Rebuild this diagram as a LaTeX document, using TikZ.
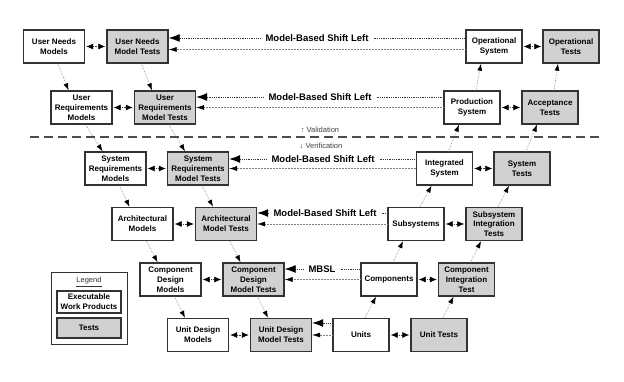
\documentclass[tikz,border=0pt]{standalone}
\usepackage{fontspec}
\setmainfont{Liberation Sans}
\usetikzlibrary{arrows.meta,calc}
\begin{document}
\begin{tikzpicture}[x=1pt,y=-1pt,
  wp/.style={draw=black!80,line width=1.4pt,fill=white,minimum width=61pt,minimum height=33pt,
    inner sep=0.5pt,align=center,font=\fontsize{8}{9.8}\selectfont\bfseries},
  wpr/.style={wp,minimum width=56pt},
  tb/.style={wp,fill=black!18},
  tbr/.style={wpr,fill=black!18},
  mbsl/.style={font=\fontsize{9.5}{11}\selectfont\bfseries,inner xsep=5pt,inner ysep=1pt},
  diag/.style={draw=black!50,densely dotted,line width=0.6pt,-{Latex[length=7pt,width=5pt,color=black]}},
  bidir/.style={draw=black!75,densely dotted,line width=0.7pt,shorten <=1pt,shorten >=1pt,
    {Latex[length=7pt,width=6pt,color=black]}-{Latex[length=7pt,width=6pt,color=black]}},
  bigarr/.style={draw=black!80,densely dotted,line width=0.8pt,-{Latex[length=11pt,width=8pt,color=black]}},
  updot/.style={draw=black!80,densely dotted,line width=0.8pt},
  thinarr/.style={draw=black!50,densely dotted,line width=0.5pt,-{Latex[length=8pt,width=5pt,color=black]}},
  small/.style={font=\fontsize{7.5}{8.5}\selectfont,text=black!75,inner sep=1pt}
]
\useasboundingbox (0,0) rectangle (624,382);

% left side (models and model tests)
\node[wp] (UNM)  at (54,46.5)    {User Needs\\Models};
\node[tb] (UNMT) at (137.5,46.5) {User Needs\\Model Tests};
\node[wp] (URM)  at (81.5,107.5) {User\\Requirements\\Models};
\node[tb] (URMT) at (165,107.5)  {User\\Requirements\\Model Tests};
\node[wp] (SRM)  at (115.5,168.5){System\\Requirements\\Models};
\node[tb] (SRMT) at (198,168.5)  {System\\Requirements\\Model Tests};
\node[wp] (AM)   at (142.5,224)  {Architectural\\Models};
\node[tb] (AMT)  at (226,224)    {Architectural\\Model Tests};
\node[wp] (CDM)  at (170.5,279.5){Component\\Design\\Models};
\node[tb] (CDMT) at (253.5,279.5){Component\\Design\\Model Tests};
\node[wp] (UDM)  at (198,335)    {Unit Design\\Models};
\node[tb] (UDMT) at (281,335)    {Unit Design\\Model Tests};

% right side (systems and tests)
\node[wpr] (OS)  at (494,46.5)   {Operational\\System};
\node[tbr] (OT)  at (571,46.5)   {Operational\\Tests};
\node[wpr] (PS)  at (472,107.5)  {Production\\System};
\node[tbr] (AT)  at (550,107.5)  {Acceptance\\Tests};
\node[wpr] (IS)  at (444.5,168.5){Integrated\\System};
\node[tbr] (ST)  at (522,168.5)  {System\\Tests};
\node[wpr] (SS)  at (416,224)    {Subsystems};
\node[tbr] (SIT) at (494,224)    {Subsystem\\Integration\\Tests};
\node[wpr] (C)   at (389,279.5)  {Components};
\node[tbr] (CIT) at (466.5,279.5){Component\\Integration\\Test};
\node[wpr] (U)   at (361,335)    {Units};
\node[tbr] (UT)  at (439,335)    {Unit Tests};

% pairs
\foreach \a/\b in {UNM/UNMT,URM/URMT,SRM/SRMT,AM/AMT,CDM/CDMT,UDM/UDMT,OS/OT,PS/AT,IS/ST,SS/SIT,C/CIT,U/UT}
  \draw[bidir] (\a) -- (\b);

% descending left arrows
\foreach \a/\b in {UNM/URM,UNMT/URMT,URM/SRM,URMT/SRMT,SRM/AM,SRMT/AMT,AM/CDM,AMT/CDMT,CDM/UDM,CDMT/UDMT}
  \draw[diag] ([xshift=4pt]\a.south) -- ([xshift=-13pt]\b.north);

% ascending right arrows
\foreach \a/\b in {U/C,UT/CIT,C/SS,CIT/SIT,SS/IS,SIT/ST,IS/PS,ST/AT,PS/OS,AT/OT}
  \draw[diag] ([xshift=4pt]\a.north) -- ([xshift=-13pt]\b.south);

% model-based shift left
\node[mbsl] (t1) at (317,38)  {Model-Based Shift Left};
\node[mbsl] (t2) at (320,97)  {Model-Based Shift Left};
\node[mbsl] (t3) at (323,159) {Model-Based Shift Left};
\node[mbsl] (t4) at (325,213) {Model-Based Shift Left};
\node[mbsl] (t5) at (322,269) {MBSL};

\draw[bigarr] (t1.west) -- (t1.west -| UNMT.east);
\draw[updot]  (t1.east) -- (t1.east -| OS.west);
\draw[thinarr] ([yshift=-3pt]OS.west) -- ([yshift=-3pt]OS.west -| UNMT.east);

\draw[bigarr] (t2.west) -- (t2.west -| URMT.east);
\draw[updot]  (t2.east) -- (t2.east -| PS.west);
\draw[thinarr] (PS.west) -- (PS.west -| URMT.east);

\draw[bigarr] (t3.west) -- (t3.west -| SRMT.east);
\draw[updot]  (t3.east) -- (t3.east -| IS.west);
\draw[thinarr] (IS.west) -- (IS.west -| SRMT.east);

\draw[bigarr] (t4.west) -- (t4.west -| AMT.east);
\draw[updot]  (t4.east) -- (t4.east -| SS.west);
\draw[thinarr] (SS.west) -- (SS.west -| AMT.east);

\draw[bigarr] (t5.west) -- (t5.west -| CDMT.east);
\draw[updot]  (t5.east) -- (t5.east -| C.west);
\draw[thinarr] (C.west) -- (C.west -| CDMT.east);

\draw[bigarr] ([yshift=12pt]U.west) -- ([yshift=12pt]U.west -| UDMT.east);
\draw[thinarr] (U.west) -- (U.west -| UDMT.east);

% validation / verification divider
\coordinate (dl) at (30,137);
\coordinate (dr) at (600,137);
\draw[line width=2pt,black!70,dash pattern=on 9pt off 5pt] (dl) -- (dr);
\node[small] (val) at (320,130) {↑ Validation};
\node[small] (ver) at (321,146) {↓ Verification};

% legend
\node[draw=black!80,line width=1pt,minimum width=76pt,minimum height=71pt] (leg) at (89,308.5) {};
\node[small,text=black!80] (legt) at (89,282) {\underline{Legend}};
\node[wp,minimum width=64pt,minimum height=22pt,line width=1.1pt] (lwp) at (89,302) {Executable\\Work Products};
\node[tb,minimum width=64pt,minimum height=20pt,line width=1.1pt] (ltb) at (89,328) {Tests};
\end{tikzpicture}
\end{document}
